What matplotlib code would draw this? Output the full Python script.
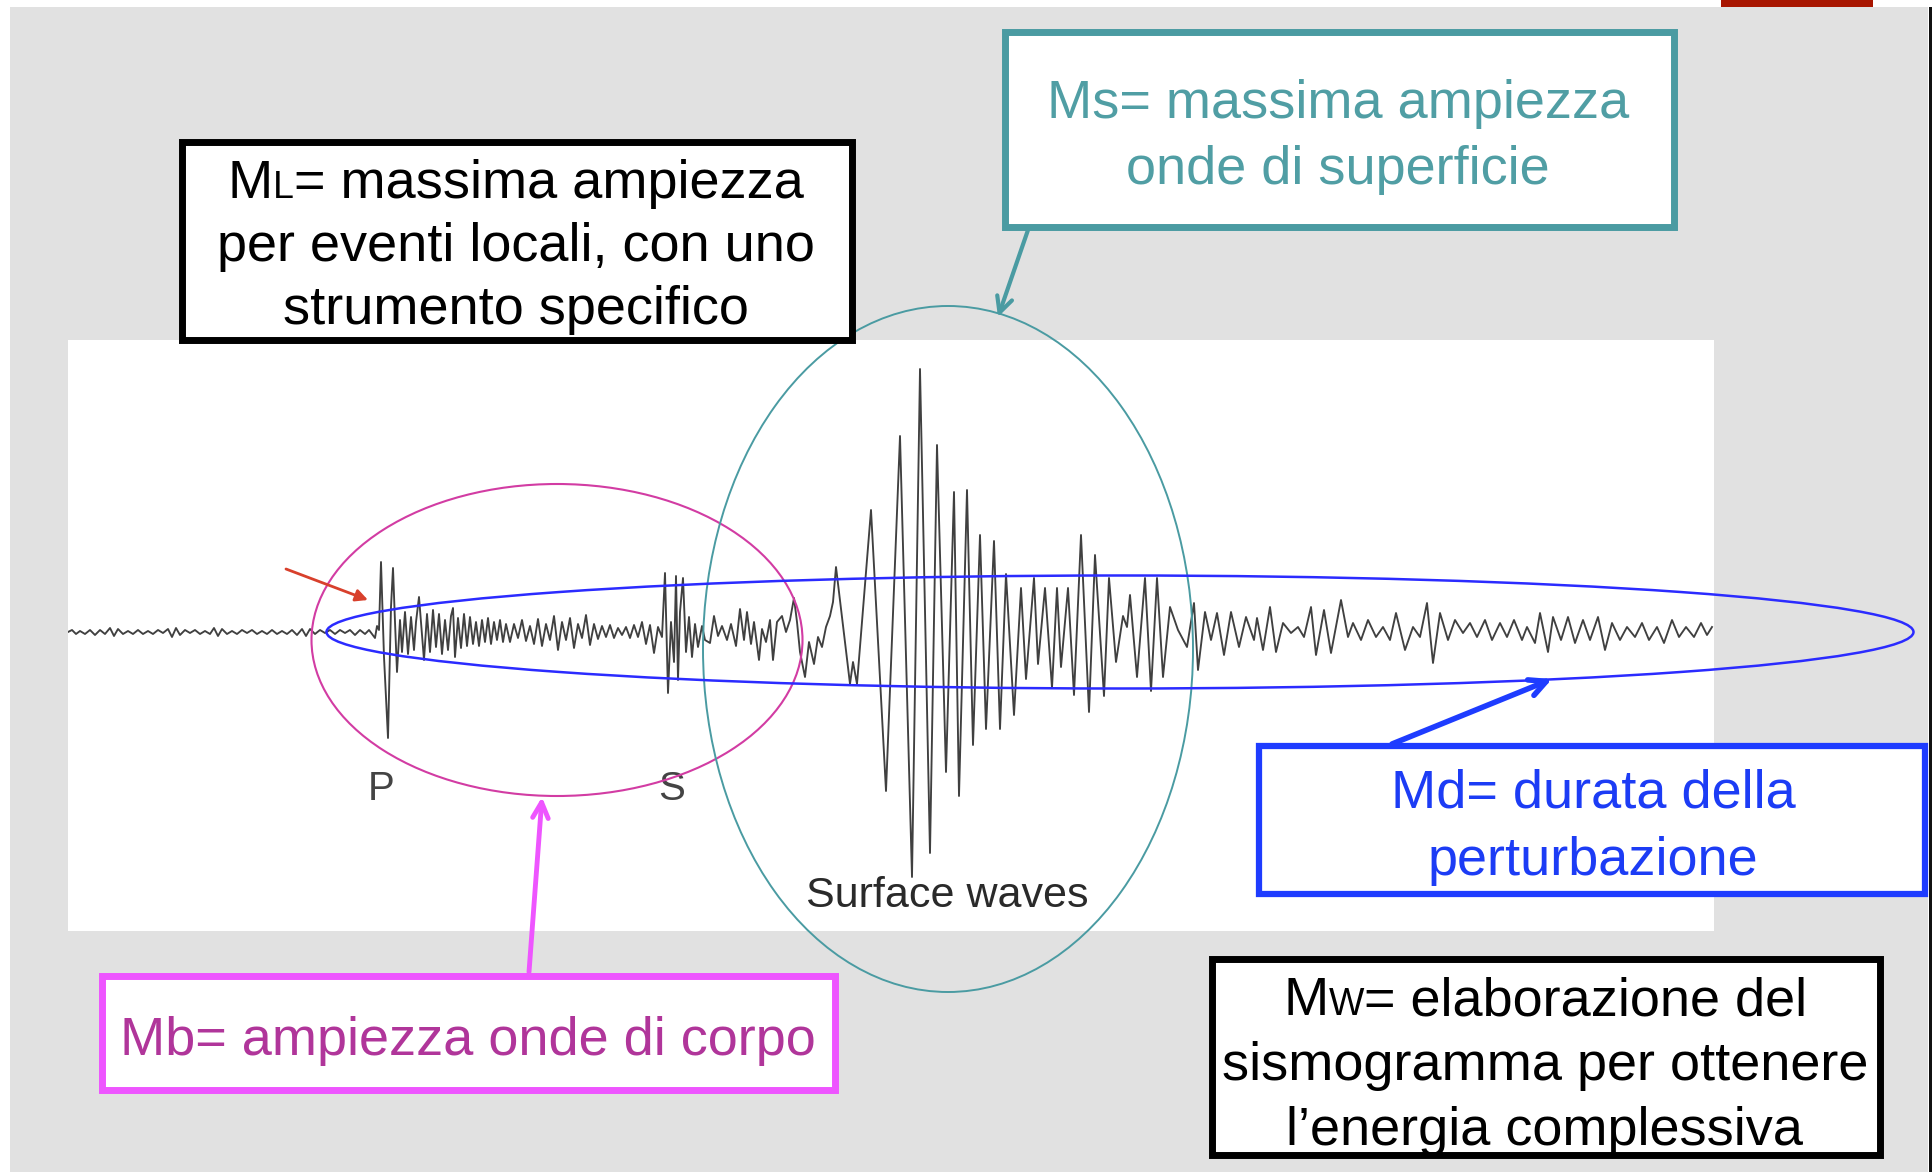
import matplotlib
matplotlib.use("Agg")
import numpy as np
import matplotlib.pyplot as plt
from matplotlib.patches import Rectangle, Ellipse

plt.rcParams['font.family'] = ['Liberation Sans', 'DejaVu Sans']

# ---- seismogram trace: (time, amplitude) extrema ----
noise = [(68,0),(72,2),(76,-2),(80,1),(85,-2),(90,2),(95,-3),(100,2),(105,-2),(110,4),
         (114,-4),(118,3),(123,-2),(128,1),(133,-2),(138,2),(143,-2),(148,1),(153,-2),
         (158,2),(163,-1),(168,3),(172,-5),(176,4),(180,-3),(185,2),(190,-1),(195,2),
         (200,-2),(205,1),(210,-2),(214,4),(218,-4),(222,3),(227,-2),(232,1),(237,-2),
         (242,2),(247,-1),(252,2),(257,-2),(262,1),(267,-2),(272,2),(277,-2),(282,1),
         (287,-2),(292,2),(297,-3),(302,3),(306,-4),(310,3),(315,-2),(320,2),(325,-1),
         (330,2),(335,-2),(340,2),(345,-1),(350,2),(355,-3),(360,2),(365,-2),(369,2),(372,-2)]
p_wave = [(375,-6),(377,6),(379,2),(381,70),(384,-25),(388,-106),(391,25),(393,64),(395,10),
          (397,-40),(400,12),(402,-20),(405,20),(408,-22),(411,15),(414,-18),(416,10),(419,35),
          (424,-28),(427,18),(430,-20),(433,22),(436,-15),(439,18),(442,-22),(445,12),(448,-18),
          (451,16),(453,24),(455,-25),(458,14),(461,-16),(464,18),(467,-14),(470,15),(473,-12),
          (476,10),(479,-14),(482,12),(485,-10),(488,14),(491,-12),(494,10),(497,-8),(500,12),
          (503,-10),(506,8)]
quiet = [(510,-10),(514,8),(518,-6),(522,12),(526,-9),(530,6),(534,-12),(538,13),(542,-14),
         (546,8),(550,-8),(554,16),(558,-18),(562,10),(566,-8),(570,14),(574,-16),(578,8),
         (582,-6),(586,17),(590,-13),(594,8),(598,-7),(602,6),(606,-5),(610,7),(614,-6),
         (618,4),(622,-3),(626,5),(630,-6),(634,7),(638,-5),(642,10),(646,-12),(650,7),(654,-21)]
s_wave = [(658,5),(662,-5),(665,59),(668,-61),(671,10),(674,-30),(676,56),(678,-48),(680,20),
          (683,54),(686,-20),(689,15),(692,-25),(695,8),(698,-15),(702,6),(705,-8),(710,-11),
          (714,16),(718,-4),(722,6),(727,-8),(731,8),(736,-14),(740,23),(744,-8),(747,20),
          (751,-12),(754,10),(759,-28),(762,3),(766,-10),(770,12),(773,-28),(777,10),(782,16),
          (786,0),(790,12),(794,34)]
surface = [(797,10),(800,-20),(805,-45),(809,-10),(814,-32),(818,-5),(822,-15),(826,5),(830,16),
           (833,30),(836,65),(850,-52),(853,-30),(857,-52),(871,122),(886,-159),(900,196),
           (912,-245),(920,263),(930,-221),(937,187),(946,-140),(954,140),(959,-164),(967,142),
           (973,-113),(980,97),(986,-97),(994,91),(1000,-97),(1006,58),(1014,-83),(1021,44),
           (1026,-47),(1034,54),(1038,-32),(1045,44),(1052,-56),(1057,44),(1061,-35),(1068,44),
           (1074,-63),(1081,97),(1089,-80),(1095,77),(1104,-64),(1109,54),(1116,-30),(1123,16),
           (1127,5),(1130,37),(1137,-45),(1145,54),(1151,-59),(1157,54),(1163,-45)]
coda = [(1170,25),(1178,2),(1187,-15),(1194,29),(1198,-38),(1205,20),(1211,-8),(1217,19),
        (1224,-23),(1231,20),(1239,-15),(1246,15),(1254,-8),(1257,14),(1263,-18),(1270,25),
        (1276,-20),(1283,9),(1291,-1),(1298,5),(1304,-5),(1311,25),(1316,-23),(1324,22),
        (1331,-21),(1341,32),(1348,-5),(1353,9),(1361,-8),(1368,12),(1376,-5),(1383,5),
        (1390,-8),(1396,19),(1405,-18),(1413,5),(1420,-5),(1427,29),(1433,-31),(1440,19),
        (1448,-8),(1455,12),(1463,-1),(1470,9),(1477,-5),(1485,12),(1492,-8),(1500,9),
        (1507,-5),(1514,12),(1522,-8),(1527,5),(1535,-11),(1540,19),(1548,-20),(1553,15),
        (1561,-8),(1568,15),(1575,-11),(1583,12),(1590,-8),(1598,15),(1605,-18),(1612,9),
        (1620,-8),(1627,5),(1635,-5),(1642,9),(1649,-8),(1657,5),(1664,-11),(1672,12),
        (1679,-5),(1686,5),(1694,-5),(1701,9),(1707,-3),(1712,5)]

phase_labels = ['P', 'S']
phase_times = [381, 672]

W, H = 1932, 1172
fig = plt.figure(figsize=(W / 100, H / 100), dpi=100)
fig.patch.set_facecolor('white')

# background layer
bg = fig.add_axes([0, 0, 1, 1], zorder=0)
bg.set_xlim(0, W); bg.set_ylim(H, 0); bg.axis('off')
bg.add_patch(Rectangle((10, 7), 1918, 1165, color='#e1e1e1', lw=0))
bg.add_patch(Rectangle((1929, 7), 3, 1165, color='#111111', lw=0))
bg.add_patch(Rectangle((1721, 0), 152, 7, color='#a81500', lw=0))

# seismogram panel
seis = fig.add_axes([68 / W, 1 - 931 / H, (1714 - 68) / W, (931 - 340) / H], zorder=1)
seis.set_facecolor('white')
seis.set_xticks([]); seis.set_yticks([])
for sp in seis.spines.values():
    sp.set_visible(False)
trace = np.array(noise + p_wave + quiet + s_wave + surface + coda, dtype=float)
seis.plot(trace[:, 0], trace[:, 1], color='#1e1e1e', lw=1.35, alpha=0.85,
          solid_joinstyle='round')
seis.set_xlim(68, 1714)
seis.set_ylim(-299, 292)
for lab, tt in zip(phase_labels, phase_times):
    seis.text(tt, -168, lab, fontsize=29, color='#444444', ha='center', va='baseline')
seis.text(947, -275, 'Surface waves', fontsize=31, color='#2a2a2a', ha='center', va='baseline')

# overlay with ellipses, boxes and arrows
top = fig.add_axes([0, 0, 1, 1], zorder=2)
top.set_xlim(0, W); top.set_ylim(H, 0); top.axis('off')

top.add_patch(Ellipse((557, 640), 491, 312, fill=False, ec='#d23ca3', lw=1.5))
top.add_patch(Ellipse((948, 649), 490, 686, fill=False, ec='#4a9ba2', lw=1.4))
top.add_patch(Ellipse((1120, 632), 1587, 113, fill=False, ec='#2b2bff', lw=1.8))


def box(x0, y0, x1, y1, color, lw=5):
    top.add_patch(Rectangle((x0, y0), x1 - x0, y1 - y0, fc='white', ec=color, lw=lw, zorder=3))


def arrow(start, tip, color, lw, style='->', scale=20):
    top.annotate('', xy=tip, xytext=start, zorder=4,
                 arrowprops=dict(arrowstyle=style, color=color, lw=lw,
                                 mutation_scale=scale, shrinkA=0, shrinkB=0))


renderer = fig.canvas.get_renderer()


def mixed_line(xc, yb, parts, color):
    texts = [top.text(0, yb, s, fontsize=fs, color=color, ha='left', va='baseline', zorder=5)
             for s, fs in parts]
    widths = [t.get_window_extent(renderer).width for t in texts]
    x = xc - sum(widths) / 2
    for t, w in zip(texts, widths):
        t.set_x(x)
        x += w


FS = 39
SMALL = 27

# ML box
box(181.5, 141.5, 851.5, 339.5, 'black')
mixed_line(516, 198, [('M', FS), ('L', SMALL), ('= massima ampiezza', FS)], 'black')
top.text(516, 261, 'per eventi locali, con uno', fontsize=FS, ha='center', va='baseline', zorder=5)
top.text(516, 324, 'strumento specifico', fontsize=FS, ha='center', va='baseline', zorder=5)

# Ms box
box(1004.5, 31.5, 1673.5, 226.5, '#4a9ba2')
top.text(1338, 118, 'Ms= massima ampiezza', fontsize=FS, color='#509ea4', ha='center', va='baseline', zorder=5)
top.text(1338, 184, 'onde di superficie', fontsize=FS, color='#509ea4', ha='center', va='baseline', zorder=5)
arrow((1028, 230), (998, 317), '#4a9ba2', 3, scale=28)

# Md box
box(1259, 746, 1925, 894, '#1e3cff', lw=4.5)
top.text(1593, 808, 'Md= durata della', fontsize=FS, color='#1c3cf5', ha='center', va='baseline', zorder=5)
top.text(1593, 875, 'perturbazione', fontsize=FS, color='#1c3cf5', ha='center', va='baseline', zorder=5)
arrow((1392, 744), (1552, 679), '#1e3cff', 4, scale=30)

# Mw box
box(1211.5, 958.5, 1879.5, 1154.5, 'black')
mixed_line(1545, 1015, [('M', FS), ('W', SMALL), ('= elaborazione del', FS)], 'black')
top.text(1545, 1080, 'sismogramma per ottenere', fontsize=FS, ha='center', va='baseline', zorder=5)
top.text(1545, 1145, 'l\u2019energia complessiva', fontsize=FS, ha='center', va='baseline', zorder=5)

# Mb box
box(101.5, 975.5, 834.5, 1089.5, '#ee55ff')
top.text(468, 1055, 'Mb= ampiezza onde di corpo', fontsize=FS, color='#b0359a', ha='center', va='baseline', zorder=5)
arrow((529, 972), (542, 797), '#ee55ff', 3.5, scale=28)

# red onset arrow
arrow((286, 569), (368, 600), '#d8402c', 2, style='-|>', scale=18)

fig.savefig('out.png', dpi=100)
